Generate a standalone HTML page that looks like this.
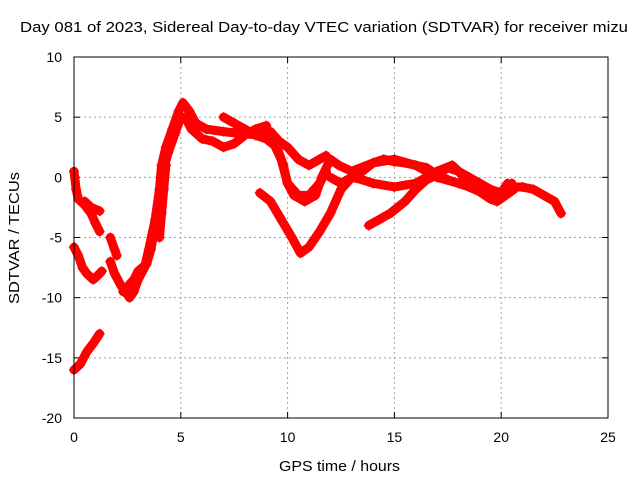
<!DOCTYPE html>
<html><head><meta charset="utf-8"><style>
body{margin:0;background:#fff;}
svg{display:block;font-family:"Liberation Sans",sans-serif;}
</style></head><body>
<svg id="chart" width="640" height="480">
<text x="20" y="32" font-size="15" textLength="608" lengthAdjust="spacingAndGlyphs">Day 081 of 2023, Sidereal Day-to-day VTEC variation (SDTVAR) for receiver mizu</text>
<text x="279" y="471" font-size="15" textLength="121" lengthAdjust="spacingAndGlyphs">GPS time / hours</text>
<text transform="translate(19,304) rotate(-90)" font-size="15" textLength="132" lengthAdjust="spacingAndGlyphs">SDTVAR / TECUs</text>
<g id="grid"></g><g id="ticks"></g><g id="series"></g>
<rect x="74" y="57" width="534" height="361" fill="none" stroke="#000"/>
</svg>
<script>
const xTicks=[0,5,10,15,20,25];
const yTicks=[10,5,0,-5,-10,-15,-20];
const s1=[[0,0.5],[0.1,-1],[0.2,-1.8],[0.5,-2.3],[0.8,-3],[1.0,-3.8],[1.2,-4.5]];
const s1b=[[0.5,-2],[0.8,-2.5],[1.2,-2.8]];
const s2=[[0,-5.8],[0.2,-6.5],[0.4,-7.5],[0.6,-8],[0.9,-8.5],[1.2,-8],[1.3,-7.8]];
const s3=[[0,-16],[0.3,-15.5],[0.6,-14.5],[0.9,-13.8],[1.2,-13]];
const s4=[[1.7,-5],[1.9,-6],[2.0,-6.5]];
const s5=[[1.7,-7],[1.9,-8],[2.2,-9],[2.6,-10],[2.8,-9.5],[3.0,-8.5],[3.3,-7.5],[3.5,-6],[3.8,-3.5],[4.0,-1],[4.1,1],[4.3,2.5],[4.6,4],[4.9,5.5],[5.1,6.2],[5.4,5.5],[5.7,4.5],[6.2,4],[7,3.8],[8,3.6],[9,3.5],[9.3,3],[9.7,1.5],[10,-0.5],[10.3,-1.5],[10.8,-2],[11.3,-1.5],[11.6,0],[12,1.5],[12.4,1],[13,0.5],[14,1.2],[15,1.5],[16,1],[17,0],[18,-0.5],[19,-1],[19.7,-1.5],[20.2,-1],[20.5,-0.5]];
const s6=[[2.3,-9.5],[2.8,-8.5],[3.0,-7.8],[3.4,-7.2],[3.6,-6],[3.9,-3],[4.1,0],[4.4,2],[4.7,3.5],[5,5],[5.2,5],[5.5,4],[6,3.2],[6.5,3],[7,2.5],[7.5,2.8],[8,3.5],[8.5,4],[9,4.3]];
const s7=[[4.0,-5],[4.1,-3],[4.2,-1],[4.3,1]];
const s8=[[7,5],[7.5,4.5],[8,4],[8.5,3.5],[9,3.2],[9.5,2.5],[9.8,1],[10,-0.5],[10.5,-1.5],[11,-1.5],[11.5,-0.5],[11.8,0.5]];
const s9=[[8.7,-1.3],[9.2,-2],[9.7,-3.5],[10.2,-5],[10.6,-6.3],[11,-5.8],[11.5,-4.5],[12,-3],[12.5,-1],[13,0],[13.5,0.5],[14,1.2],[14.5,1.5],[15,1.3],[15.5,1.2],[16,1],[16.5,0.8],[17,0.2],[17.5,-0.2],[18,-0.5],[18.5,-0.8],[19,-1.2],[19.5,-1.8],[19.8,-2],[20.2,-1.5],[20.6,-1]];
const s10=[[13.8,-4],[14.3,-3.5],[14.8,-3],[15.5,-2],[16,-1],[16.5,-0.2],[17,0.2],[17.5,0.8],[18,0.5],[18.5,-0.5],[19,-1],[19.5,-1.5]];
const s11=[[20.5,-0.8],[21,-0.8],[21.5,-1],[22,-1.5],[22.5,-2],[22.8,-3]];
const s12=[[9.2,3.8],[9.6,3],[10,2.5],[10.5,1.5],[11,1],[11.5,1.5],[11.8,1.8]];
const s13=[[12,0],[12.5,-0.5],[13,0],[13.5,-0.2],[14,-0.5],[15,-0.8],[16,-0.5],[17,0.5],[17.7,1],[18,0.5],[18.5,0],[19,-0.5],[19.5,-1],[20,-1.3],[20.3,-0.5]];
const allSeries=[s1,s1b,s2,s3,s4,s5,s6,s7,s8,s9,s10,s11,s12,s13];
const NS="http://www.w3.org/2000/svg";
const X=v=>74+v*(534/25), Y=v=>418-(v+20)*(361/30);
function mk(t,a,p){const e=document.createElementNS(NS,t);for(const k in a)e.setAttribute(k,a[k]);p.appendChild(e);return e;}
const g=document.getElementById('grid'),tk=document.getElementById('ticks'),sg=document.getElementById('series');
xTicks.forEach(v=>{const x=X(v);
 if(v>0&&v<25){const l=mk('line',{x1:x,x2:x,y1:57,y2:418,stroke:'#a0a0a0','stroke-dasharray':'2,3'},g);}
 const t=mk('text',{x:x,y:442,'text-anchor':'middle','font-size':14},tk);t.textContent=v;
 
 mk('line',{x1:x,x2:x,y1:418,y2:412,stroke:'#000'},tk);mk('line',{x1:x,x2:x,y1:57,y2:63,stroke:'#000'},tk);});
yTicks.forEach(v=>{const y=Y(v);
 if(v>-20&&v<10){const l=mk('line',{x1:74,x2:608,y1:y,y2:y,stroke:'#a0a0a0','stroke-dasharray':'2,3'},g);}
 const t=mk('text',{x:62,y:y+5,'text-anchor':'end','font-size':14},tk);t.textContent=v;
 
 mk('line',{x1:74,x2:80,y1:y,y2:y,stroke:'#000'},tk);mk('line',{x1:608,x2:602,y1:y,y2:y,stroke:'#000'},tk);});
allSeries.forEach(s=>{
 const p=mk('polyline',{points:s.map(d=>X(d[0])+','+Y(d[1])).join(' '),fill:'none',stroke:'#ff0000','stroke-width':9,'stroke-linejoin':'round','stroke-linecap':'round'},sg);
 
 
 s.forEach(d=>{const x=X(d[0]),y=Y(d[1]);
  const m=mk('path',{d:`M${x-5},${y}H${x+5}M${x},${y-5}V${y+5}`,stroke:'#ff0000','stroke-width':1.5},sg);
  
  });
});
</script>
</body></html>
